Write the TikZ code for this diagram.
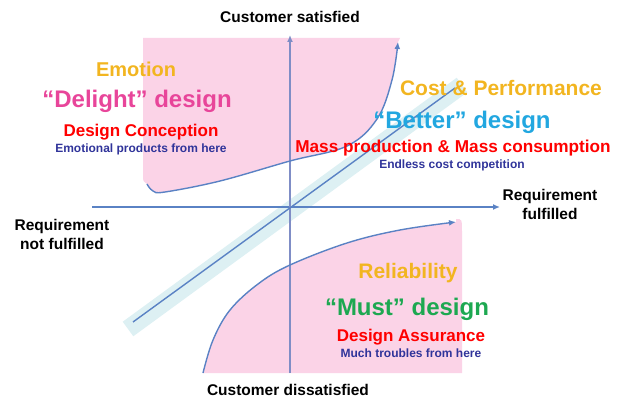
\documentclass[tikz,border=0pt]{standalone}
\usepackage{fontspec}
\setmainfont{Liberation Sans}
\usepackage{xcolor}
\usetikzlibrary{arrows.meta}
\definecolor{pinkfill}{HTML}{FBD3E7}
\definecolor{bandcol}{HTML}{DDF0F3}
\definecolor{axiscol}{HTML}{5A82C4}
\definecolor{vaxiscol}{HTML}{7F8DC6}
\definecolor{gold}{HTML}{F2B520}
\definecolor{delight}{HTML}{E8459A}
\definecolor{better}{HTML}{22A7E0}
\definecolor{must}{HTML}{1DA851}
\definecolor{navy}{HTML}{30349A}
\newcommand{\fs}[1]{\bfseries\fontsize{#1}{#1}\selectfont}
\newcommand{\upcurve}{(147,184) (153,191) (165,192) (220,181) (290,161) (347,146) (377,119) (392,80) (398,42)}
\newcommand{\lowcurve}{(203,373) (213,340) (230,310) (258,284) (290,265) (347,243) (400,230) (456,222)}

\begin{document}
\begin{tikzpicture}[x=1pt,y=-1pt,
  axis/.style={draw=axiscol,line width=1.4pt,-{Latex[length=7pt,width=6pt]}},
  curve/.style={draw=axiscol,line width=1.4pt,-{Latex[length=7pt,width=6pt]}},
  label/.style={inner sep=0pt,align=center,font=\bfseries\fontsize{15.5}{19}\selectfont}]
\useasboundingbox (0,0) rectangle (622,401);

\fill[pinkfill] plot[smooth,tension=0.6] coordinates {\upcurve} -- (400,38) -- (143,38)
  -- (143,176) .. controls (143,181) .. (147,184) -- cycle;
\fill[pinkfill] plot[smooth,tension=0.6] coordinates {\lowcurve} -- (456,219)
  .. controls (462,219) .. (462,232) -- (462,373) -- cycle;

\draw[bandcol,line width=18pt] (128,329) -- (462,85);

\coordinate (west) at (92,207);
\coordinate (east) at (500,207);
\coordinate (south) at (290,373);
\coordinate (north) at (290,35);
\coordinate (low) at (133,322);
\coordinate (high) at (455,88);
\draw[axis] (west) -- (east);
\draw[axis,draw=vaxiscol] (south) -- (north);
\draw[draw=axiscol,line width=1.4pt] (low) -- (high);

\draw[curve] plot[smooth,tension=0.6] coordinates {\upcurve};
\draw[curve] plot[smooth,tension=0.6] coordinates {\lowcurve};

\node[label] (sat) at (290,17) {Customer satisfied};
\node[label] (dissat) at (288,390) {Customer dissatisfied};
\node[label] (ful) at (550,204) {Requirement\\fulfilled};
\node[label] (notful) at (62,234) {Requirement\\not fulfilled};

\node[gold,font=\fs{20}] (emotion) at (136,69) {Emotion};
\node[delight,font=\fs{24}] (delight) at (137,101) {“Delight” design};
\node[red,font=\fs{17}] (concept) at (141,132) {Design Conception};
\node[navy,font=\fs{12}] (emoprod) at (141,149) {Emotional products from here};

\node[gold,font=\fs{21}] (cost) at (501,88) {Cost \& Performance};
\node[better,font=\fs{24}] (better) at (462,122) {“Better” design};
\node[red,font=\fs{17.2}] (mass) at (453,148) {Mass production \& Mass consumption};
\node[navy,font=\fs{12}] (endless) at (452,165) {Endless cost competition};

\node[gold,font=\fs{21}] (rely) at (408,273) {Reliability};
\node[must,font=\fs{24}] (must) at (407,309) {“Must” design};
\node[red,font=\fs{17}] (assure) at (411,337) {Design Assurance};
\node[navy,font=\fs{12}] (troubles) at (411,353) {Much troubles from here};
\end{tikzpicture}
\end{document}
